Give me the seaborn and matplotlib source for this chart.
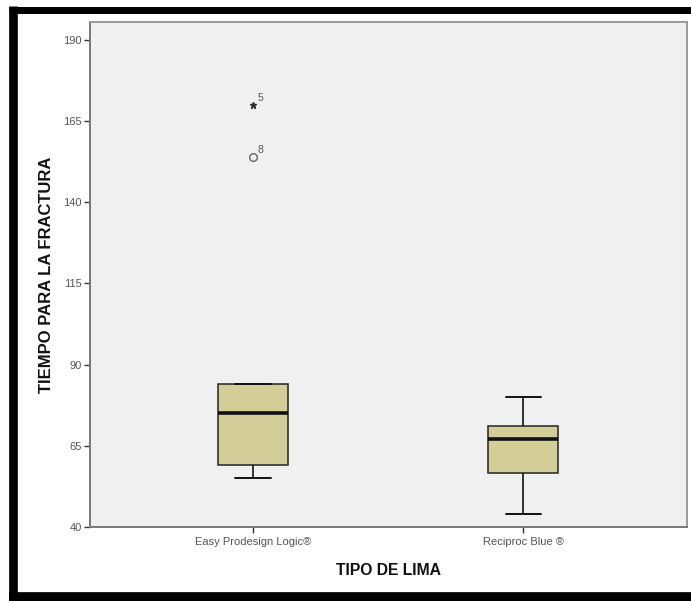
import numpy as np
import pandas as pd
import matplotlib
matplotlib.use("Agg")
import matplotlib.pyplot as plt
import seaborn as sns
from matplotlib.lines import Line2D

# time to fracture per file type, listed in case order (case 5 and 8 are the outliers)
easy_prodesign = [58, 72, 55, 84, 170, 62, 78, 154, 57, 84]
reciproc_blue = [44, 52, 56, 59, 66, 68, 68, 72, 76, 80]
categories = ["Easy Prodesign Logic®", "Reciproc Blue ®"]
y_ticks = [40, 65, 90, 115, 140, 165, 190]

df = pd.DataFrame({
    "lima": [categories[0]] * len(easy_prodesign) + [categories[1]] * len(reciproc_blue),
    "tiempo": easy_prodesign + reciproc_blue,
    "caso": list(range(1, len(easy_prodesign) + 1)) + list(range(1, len(reciproc_blue) + 1)),
})

sns.set_style("white")
plt.rcParams["font.family"] = ["Liberation Sans", "DejaVu Sans"]

fig = plt.figure(figsize=(6.91, 6.01), dpi=100)
W, H = 691, 601
ax = fig.add_axes([89.5 / W, (H - 527) / H, (687 - 89.5) / W, (527 - 22) / H])
ax.set_facecolor("#f0f0f0")

box_color = "#d3ce97"
sns.boxplot(data=df, x="lima", y="tiempo", order=categories, ax=ax,
            width=0.26, color=box_color, saturation=1, showfliers=False,
            linecolor="#222222", linewidth=1.1,
            medianprops=dict(color="#111111", linewidth=2.6),
            whiskerprops=dict(color="#111111", linewidth=1.2),
            capprops=dict(color="#111111", linewidth=1.4))

# outliers: SPSS style, circle beyond 1.5 IQR, star beyond 3 IQR
for i, cat in enumerate(categories):
    sub = df[df["lima"] == cat]
    q1, q3 = np.percentile(sub["tiempo"], [25, 75])
    iqr = q3 - q1
    for _, row in sub.iterrows():
        v = row["tiempo"]
        if v > q3 + 3 * iqr or v < q1 - 3 * iqr:
            ax.plot(i, v, marker="*", color="#333333", markersize=5, linestyle="none")
        elif v > q3 + 1.5 * iqr or v < q1 - 1.5 * iqr:
            ax.plot(i, v, marker="o", markerfacecolor="none", markeredgecolor="#666666",
                    markersize=5.5, markeredgewidth=1.0, linestyle="none")
        else:
            continue
        ax.annotate(str(row["caso"]), (i, v), xytext=(3.5, 3), textcoords="offset points",
                    fontsize=7.5, color="#555555")

ax.set_ylim(40, 195.5)
ax.set_xlim(-0.605, 1.606)
ax.set_yticks(y_ticks)
ax.set_yticklabels([str(t) for t in y_ticks])

ax.tick_params(axis="both", direction="out", length=4, width=1.0, color="#333333",
               labelsize=8, labelcolor="#555555", pad=1.5, left=True, bottom=True)
ax.tick_params(axis="x", pad=3.5)

for side in ["left", "bottom"]:
    ax.spines[side].set_color("#777777")
    ax.spines[side].set_linewidth(1.4)
for side in ["top", "right"]:
    ax.spines[side].set_color("#9a9a9a")
    ax.spines[side].set_linewidth(1.4)

ax.set_ylabel("TIEMPO PARA LA FRACTURA", fontsize=12, fontweight="bold",
              color="#111111", labelpad=7)
ax.set_xlabel("TIPO DE LIMA", fontsize=11.3, fontweight="bold", color="#111111",
              labelpad=11)

# black frame around the picture (right side cropped off in the original)
px = lambda x: x / W
py = lambda y: (H - y) / H
frame = dict(color="black", solid_capstyle="butt", transform=fig.transFigure)
fig.add_artist(Line2D([px(13), px(13)], [py(6), py(601)], linewidth=6.2, **frame))
fig.add_artist(Line2D([px(9), px(700)], [py(9.5), py(9.5)], linewidth=5.0, **frame))
fig.add_artist(Line2D([px(9), px(700)], [py(597), py(597)], linewidth=7.0, **frame))

fig.savefig("out.png", dpi=100, facecolor="white")
